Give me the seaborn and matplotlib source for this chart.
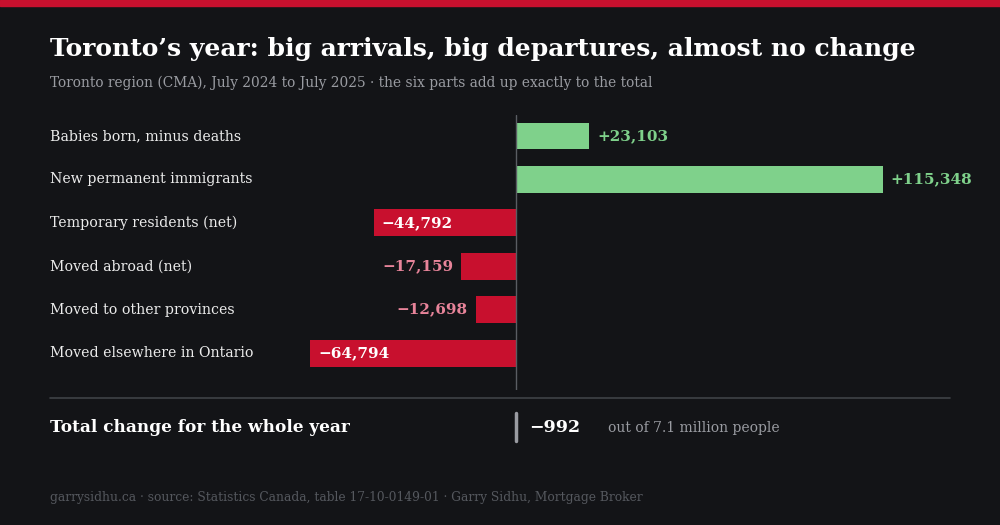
import matplotlib
matplotlib.use('Agg')
import matplotlib.pyplot as plt
import matplotlib.transforms as mtransforms
import pandas as pd
import seaborn as sns

# data
parts = ['Babies born, minus deaths', 'New permanent immigrants', 'Temporary residents (net)',
         'Moved abroad (net)', 'Moved to other provinces', 'Moved elsewhere in Ontario']
values = [23103, 115348, -44792, -17159, -12698, -64794]
total = -992

BG = '#131417'
RED = '#c8102e'
GREEN = '#7fd18b'
PINK = '#e8849a'
SERIF = 'DejaVu Serif'

df = pd.DataFrame({'part': parts, 'value': values})
df['sign'] = ['pos' if v > 0 else 'neg' for v in df['value']]

sns.set_theme(style='white')
plt.rcParams['font.family'] = [SERIF]

fig = plt.figure(figsize=(10, 5.25), dpi=100, facecolor=BG)
ax = fig.add_axes([0, 1 - 390 / 525, 1, 275 / 525])
ax.set_facecolor(BG)
sns.barplot(data=df, y='part', x='value', hue='sign', palette={'pos': GREEN, 'neg': RED},
            width=0.62, legend=False, ax=ax, dodge=False, saturation=1, linewidth=0)
scale = 0.00318  # px per unit
ax.set_xlim(-516 / scale, (1000 - 516) / scale)
ax.set_ylim(5.85, -0.484)
ax.axvline(0, color='#5a5d63', lw=1)
ax.axis('off')

lab_tr = mtransforms.blended_transform_factory(fig.transFigure, ax.transData)
for i, (p, v) in enumerate(zip(parts, values)):
    ax.text(0.05, i, p, transform=lab_tr, color='#ececec', fontsize=10.2, va='center', ha='left')
    txt = f'{v:+,}'.replace('-', '\u2212')
    if v > 0:
        ax.text(v + 2500, i, txt, color=GREEN, fontsize=11, fontweight='bold', va='center', ha='left')
    elif v < -30000:
        ax.text(v + 2500, i, txt, color='white', fontsize=11, fontweight='bold', va='center', ha='left')
    else:
        ax.text(v - 2500, i, txt, color=PINK, fontsize=11, fontweight='bold', va='center', ha='right')

# top stripe and title
fig.patches.append(plt.Rectangle((0, 1 - 6 / 525), 1, 6 / 525, transform=fig.transFigure, color=RED))
fig.text(0.05, 1 - 49 / 525, 'Toronto\u2019s year: big arrivals, big departures, almost no change',
         color='white', fontsize=18, fontweight='bold', va='center')
fig.text(0.05, 1 - 83 / 525, 'Toronto region (CMA), July 2024 to July 2025 \u00b7 the six parts add up exactly to the total',
         color='#9a9ca2', fontsize=9.9, va='center')

# total row
fig.add_artist(plt.Line2D([0.05, 0.95], [1 - 398 / 525] * 2, color='#3f4247', lw=1.2))
fig.text(0.05, 1 - 427 / 525, 'Total change for the whole year', color='white', fontsize=12.2,
         fontweight='bold', va='center')
fig.add_artist(plt.Line2D([0.5155, 0.5155], [1 - 441 / 525, 1 - 413 / 525], color='#9a9ca2', lw=2.5))
fig.text(0.529, 1 - 427 / 525, f'{total:,}'.replace('-', '\u2212'), color='white', fontsize=12.5,
         fontweight='bold', va='center')
fig.text(0.608, 1 - 428 / 525, 'out of 7.1 million people', color='#9a9ca2', fontsize=10, va='center')

fig.text(0.05, 1 - 498 / 525, 'garrysidhu.ca \u00b7 source: Statistics Canada, table 17-10-0149-01 \u00b7 Garry Sidhu, Mortgage Broker',
         color='#55585e', fontsize=8.8, va='center')

fig.savefig('out.png', dpi=100, facecolor=BG)
